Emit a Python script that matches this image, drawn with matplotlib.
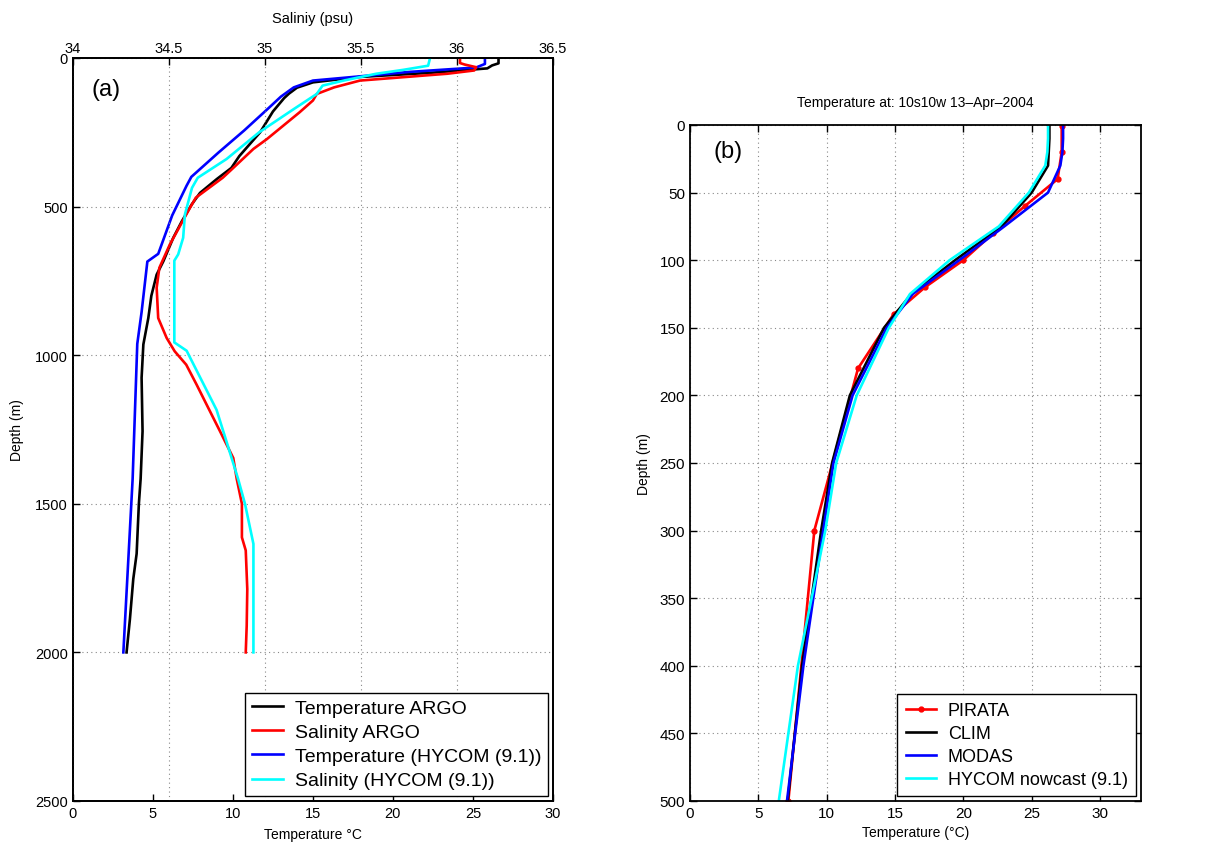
import matplotlib
matplotlib.use("Agg")
import matplotlib.pyplot as plt

plt.rcParams['font.family'] = ['Liberation Sans', 'DejaVu Sans']

# ---------------- Panel (a) data ----------------
argo_temp_depth = [0, 18, 25, 35, 50, 64, 82, 100, 120, 135, 180, 250, 330, 370, 407, 454, 493,
                   550, 605, 684, 729, 800, 875, 964, 1076, 1256, 1416, 1500, 1668, 1753, 1888, 2000]
argo_temp = [26.6, 26.6, 26.2, 25.9, 22.3, 17.9, 15.0, 14.0, 13.5, 13.2, 12.5, 11.7, 10.4, 9.9, 9.0,
             7.94, 7.42, 6.8, 6.27, 5.65, 5.23, 4.9, 4.71, 4.4, 4.29, 4.35, 4.23, 4.12, 3.98, 3.77, 3.56, 3.35]

hycom_temp_depth = [0, 20, 32, 47, 62, 76, 99, 130, 170, 244, 318, 400, 430, 530, 659, 685, 855, 962, 1416, 2000]
hycom_temp = [25.75, 25.75, 25.2, 21.0, 17.9, 15.0, 13.8, 13.0, 12.2, 10.7, 9.1, 7.4, 7.1, 6.2, 5.33,
              4.65, 4.29, 4.02, 3.73, 3.15]

argo_sal_depth = [0, 17, 22, 31, 42, 53, 76, 99, 121, 143, 183, 273, 306, 373, 403, 470, 515, 627, 706,
                  773, 875, 942, 987, 1032, 1099, 1166, 1256, 1346, 1416, 1500, 1613, 1657, 1787, 1910, 2000]
argo_sal = [36.016, 36.016, 36.04, 36.1, 36.09, 35.95, 35.495, 35.36, 35.27, 35.25, 35.18, 35.01, 34.94,
            34.83, 34.78, 34.64, 34.60, 34.505, 34.45, 34.436, 34.444, 34.488, 34.53, 34.59, 34.644,
            34.696, 34.766, 34.835, 34.853, 34.88, 34.88, 34.90, 34.908, 34.905, 34.90]

hycom_sal_depth = [0, 26, 40, 53, 76, 93, 121, 172, 250, 340, 403, 437, 527, 605, 661, 682, 957, 985,
                   1184, 1291, 1416, 1500, 1635, 2000]
hycom_sal = [35.86, 35.85, 35.72, 35.58, 35.41, 35.30, 35.27, 35.15, 34.97, 34.80, 34.65, 34.62, 34.583,
             34.574, 34.548, 34.528, 34.528, 34.592, 34.748, 34.80, 34.86, 34.896, 34.94, 34.94]

legend_a = ['Temperature ARGO', 'Salinity ARGO', 'Temperature (HYCOM (9.1))', 'Salinity (HYCOM (9.1))']

# ---------------- Panel (b) data ----------------
pirata_depth = [1, 20, 40, 60, 80, 100, 120, 140, 180, 300, 500]
pirata_temp = [27.2, 27.2, 26.9, 24.5, 22.2, 20.0, 17.2, 14.9, 12.3, 9.1, 7.2]

model_depth = [0, 10, 20, 30, 50, 75, 100, 125, 150, 200, 250, 300, 400, 500]
clim_temp = [26.3, 26.3, 26.25, 26.2, 25.0, 22.8, 19.4, 16.2, 14.2, 11.7, 10.4, 9.6, 8.2, 7.15]
modas_temp = [27.3, 27.3, 27.25, 27.1, 26.2, 23.0, 19.7, 16.3, 14.4, 11.9, 10.5, 9.75, 8.3, 7.1]
hycom_now_temp = [26.2, 26.2, 26.15, 26.0, 24.8, 22.6, 19.0, 16.1, 14.55, 12.2, 10.7, 9.9, 7.9, 6.5]

legend_b = ['PIRATA', 'CLIM', 'MODAS', 'HYCOM nowcast (9.1)']

LW = 1.9
GRID = dict(linestyle=(0, (1, 3)), color='#888888', lw=0.8)
fig = plt.figure(figsize=(12.16, 8.45), dpi=100)

# ---------------- Panel (a) ----------------
axa = fig.add_axes([0.0600, 0.0509, 0.3947, 0.8793])
l1, = axa.plot(argo_temp, argo_temp_depth, color='black', lw=LW)
l3, = axa.plot(hycom_temp, hycom_temp_depth, color='#0000ff', lw=LW)
axa.set_xlim(0, 30)
axa.set_ylim(2500, 0)
axa.set_xticks([0, 5, 10, 15, 20, 25, 30])
axa.set_yticks([0, 500, 1000, 1500, 2000, 2500])
axa.set_xlabel('Temperature °C', fontsize=10, labelpad=5)
axa.set_ylabel('Depth (m)', fontsize=10, labelpad=8)
axa.tick_params(direction='in', length=5, labelsize=10.5, width=1)
axa.yaxis.grid(True, **GRID)

axs = axa.twiny()
l2, = axs.plot(argo_sal, argo_sal_depth, color='#ff0000', lw=LW)
l4, = axs.plot(hycom_sal, hycom_sal_depth, color='#00ffff', lw=LW)
axs.set_xlim(34, 36.5)
axs.set_ylim(2500, 0)
axs.set_xticks([34, 34.5, 35, 35.5, 36, 36.5])
axs.set_xticklabels(['34', '34.5', '35', '35.5', '36', '36.5'])
axs.set_xlabel('Saliniy (psu)', fontsize=10.5, labelpad=14)
axs.tick_params(direction='in', length=5, labelsize=10.5, width=1, pad=2)
axs.xaxis.grid(True, **GRID)
for ax in (axa, axs):
    for s in ax.spines.values():
        s.set_linewidth(1.3)

axs.text(0.069, 0.958, '(a)', transform=axs.transAxes, fontsize=17, ha='center', va='center')
leg = axs.legend([l1, l2, l3, l4], legend_a, loc='lower right', fontsize=14, frameon=True,
                 fancybox=False, edgecolor='black', framealpha=1, borderaxespad=0.25,
                 handlelength=1.6, handletextpad=0.6, labelspacing=0.33, borderpad=0.35)
leg.get_frame().set_linewidth(1.0)

# ---------------- Panel (b) ----------------
axb = fig.add_axes([0.5674, 0.0509, 0.3709, 0.8000])
axb.plot(pirata_temp, pirata_depth, color='#ff0000', lw=LW, marker='o', markersize=3.5,
         label=legend_b[0])
axb.plot(clim_temp, model_depth, color='black', lw=LW, label=legend_b[1])
axb.plot(modas_temp, model_depth, color='#0000ff', lw=LW, label=legend_b[2])
axb.plot(hycom_now_temp, model_depth, color='#00ffff', lw=LW, label=legend_b[3])
axb.set_xlim(0, 33)
axb.set_ylim(500, 0)
axb.set_xticks([0, 5, 10, 15, 20, 25, 30])
axb.set_yticks(list(range(0, 501, 50)))
axb.set_xlabel('Temperature (°C)', fontsize=10, labelpad=4)
axb.set_ylabel('Depth (m)', fontsize=10, labelpad=6)
axb.set_title('Temperature at: 10s10w 13–Apr–2004', fontsize=10, pad=14)
axb.tick_params(direction='in', length=5, labelsize=11, width=1,
                top=True, right=True)
axb.grid(True, **GRID)
for s in axb.spines.values():
    s.set_linewidth(1.3)
axb.text(0.084, 0.9615, '(b)', transform=axb.transAxes, fontsize=17, ha='center', va='center')
legb = axb.legend(loc='lower right', fontsize=13, frameon=True, fancybox=False, edgecolor='black',
                  framealpha=1, borderaxespad=0.27, handlelength=1.7, handletextpad=0.65,
                  labelspacing=0.33, borderpad=0.45)
legb.get_frame().set_linewidth(1.0)

fig.savefig('out.png', dpi=100)
